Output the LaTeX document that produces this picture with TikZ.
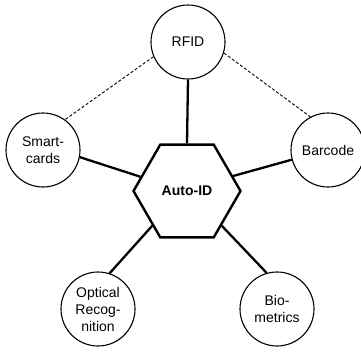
\documentclass[tikz,border=0pt]{standalone}
\usepackage{fontspec}
\setmainfont{Liberation Sans}
\usetikzlibrary{shapes.geometric}
\begin{document}
\begin{tikzpicture}[x=1pt,y=-1pt,
  topic/.style={circle,draw,line width=1.1pt,minimum size=74pt,inner sep=0pt,
    align=center,font=\fontsize{14}{17}\selectfont},
  hub/.style={regular polygon,regular polygon sides=6,draw,line width=2.4pt,
    minimum size=107pt,inner sep=0pt,font=\fontsize{14}{17}\selectfont\bfseries},
  link/.style={line width=2.3pt},
  weak/.style={line width=0.9pt,dash pattern=on 3pt off 2pt}]
\useasboundingbox (0,0) rectangle (361,351);

% central technology and the five families around it
\node[hub] (hex) at (187,191) {Auto-ID};
\node[topic] (rfid)  at (188,42)  {RFID};
\node[topic] (smart) at (43,150)  {Smart-\\cards};
\node[topic] (bar)   at (328,150) {Barcode};
\node[topic] (ocr)   at (98,309)  {Optical\\Recog-\\nition};
\node[topic] (bio)   at (277,309) {Bio-\\metrics};

% solid links to the hub
\draw[link] (rfid.south) -- (hex.north);
\draw[link] (smart.-11) -- (hex.163);
\draw[link] (bar.195) -- (hex.18);
\draw[link] (ocr.72) -- (hex.225);
\draw[link] (bio.106) -- (hex.-45);

% dashed relations between RFID and its neighbours
\draw[weak] (rfid.203) -- (smart.54);
\draw[weak] (rfid.-17) -- (bar.118);
\end{tikzpicture}
\end{document}
